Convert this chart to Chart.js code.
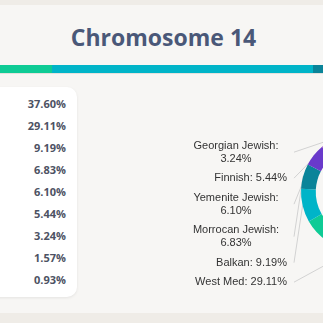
<!DOCTYPE html>
<html>
<head>
<meta charset="utf-8">
<script src="https://cdn.jsdelivr.net/npm/chart.js@4"></script>
<style>
  html, body { margin: 0; padding: 0; }
  body {
    width: 323px; height: 323px; overflow: hidden; position: relative;
    background: #efece7; font-family: "Open Sans", "Noto Sans", sans-serif;
  }
  #panel { position: absolute; left: 0; top: 5px; width: 323px; height: 308px; background: #f7f6f4; }
  #title {
    position: absolute; left: 0; top: 22px; width: 327px; text-align: center;
    font-size: 23px; font-weight: 700; line-height: 30px; color: #4a5878;
  }
  #bar { position: absolute; left: 0; top: 65px; width: 323px; height: 8px; display: flex; border-bottom: 1px solid #e4e1dc; }
  #card {
    position: absolute; left: -20px; top: 87px; width: 97px; height: 210px;
    background: #fff; border-radius: 10px; box-shadow: 0 1px 3px rgba(0,0,0,0.08);
  }
  #list { position: absolute; right: 11px; top: 6px; text-align: right; }
  #list div { font-size: 11px; font-weight: 700; line-height: 22px; color: #4d5263; }
  #chart { position: absolute; left: 180px; top: 100px; }
</style>
</head>
<body>
<div id="panel"></div>
<div id="title">Chromosome 14</div>
<div id="bar"></div>
<div id="card"><div id="list"></div></div>
<canvas id="chart" width="360" height="200"></canvas>
<script>
// regions and their share of chromosome 14 (the first, third-last and last names are cut off in the picture)
const regions = ['Other', 'West Med', 'Balkan', 'Morrocan Jewish', 'Yemenite Jewish', 'Finnish', 'Georgian Jewish', 'Other 2', 'Other 3'];
const shares = [37.60, 29.11, 9.19, 6.83, 6.10, 5.44, 3.24, 1.57, 0.93];
const colors = ['#3d5a9e', '#0ecb95', '#00b4c8', '#0a8499', '#6a3acb', '#9b46c9', '#d9518f', '#ef8a4b', '#f5c243'];

// top colour strip (width in px of each piece as seen)
const barColors = ['#0ecb95', '#00b4c8', '#0a8499'];
const barWidths = [52, 261, 10];

const bar = document.getElementById('bar');
barColors.forEach((c, i) => {
    const d = document.createElement('div');
    d.style.background = c;
    d.style.width = barWidths[i] + 'px';
    d.style.height = '8px';
    bar.appendChild(d);
});

const list = document.getElementById('list');
shares.forEach(v => {
    const d = document.createElement('div');
    d.textContent = v.toFixed(2) + '%';
    list.appendChild(d);
});

// labels outside the ring with leader lines
const outLabels = {
    id: 'outLabels',
    beforeDatasetsDraw(chart) {
        const ctx = chart.ctx;
        const arcs = chart.getDatasetMeta(0).data;
        const lineH = 13, gap = 6.5, labelR = 32;
        ctx.save();
        ctx.font = '11px "Liberation Sans", Arial, sans-serif';
        ctx.textBaseline = 'middle';
        const items = [];
        arcs.forEach((arc, i) => {
            if (shares[i] < 2) return;
            const mid = (arc.startAngle + arc.endAngle) / 2;
            const text = regions[i] + ': ' + shares[i].toFixed(2) + '%';
            const wrap = ctx.measureText(text).width > 100;
            items.push({
                arc, mid,
                ax: arc.x + Math.cos(mid) * arc.outerRadius,
                ay: arc.y + Math.sin(mid) * arc.outerRadius,
                lines: wrap ? [regions[i] + ':', shares[i].toFixed(2) + '%'] : [text],
                left: Math.cos(mid) < 0
            });
        });
        [true, false].forEach(side => {
            const group = items.filter(it => it.left === side).sort((a, b) => b.ay - a.ay);
            let prev = null;
            group.forEach(it => {
                const h = it.lines.length * lineH;
                if (!prev) {
                    it.y = it.arc.y + Math.sin(it.mid) * (it.arc.outerRadius + labelR);
                } else {
                    it.y = prev.y - (prev.h / 2 + gap + h / 2);
                }
                it.h = h;
                prev = it;
            });
            group.forEach(it => {
                const a = it.arc;
                const edge = side ? a.x - a.outerRadius - 14 : a.x + a.outerRadius + 14;
                const lx = side ? edge + 7 : edge - 7;
                ctx.strokeStyle = '#d2d2d2';
                ctx.lineWidth = 1;
                ctx.beginPath();
                ctx.moveTo(lx, it.y);
                ctx.lineTo(it.ax, it.ay);
                ctx.stroke();
                ctx.fillStyle = '#333';
                if (it.lines.length > 1) {
                    ctx.textAlign = 'center';
                    const cx = side ? edge - 51 : edge + 51;
                    it.lines.forEach((t, k) => {
                        ctx.fillText(t, cx, it.y + (k - (it.lines.length - 1) / 2) * lineH);
                    });
                } else {
                    ctx.textAlign = side ? 'right' : 'left';
                    ctx.fillText(it.lines[0], edge, it.y);
                }
            });
        });
        ctx.restore();
    }
};

new Chart(document.getElementById('chart'), {
    type: 'doughnut',
    data: {
        labels: regions,
        datasets: [{
            data: shares,
            backgroundColor: colors,
            borderWidth: 0
        }]
    },
    options: {
        responsive: false,
        animation: false,
        cutout: '75%',
        layout: { padding: { top: 33, bottom: 49, left: 0, right: 0 } },
        plugins: {
            legend: { display: false },
            tooltip: { enabled: false }
        }
    },
    plugins: [outLabels]
});
</script>
</body>
</html>
